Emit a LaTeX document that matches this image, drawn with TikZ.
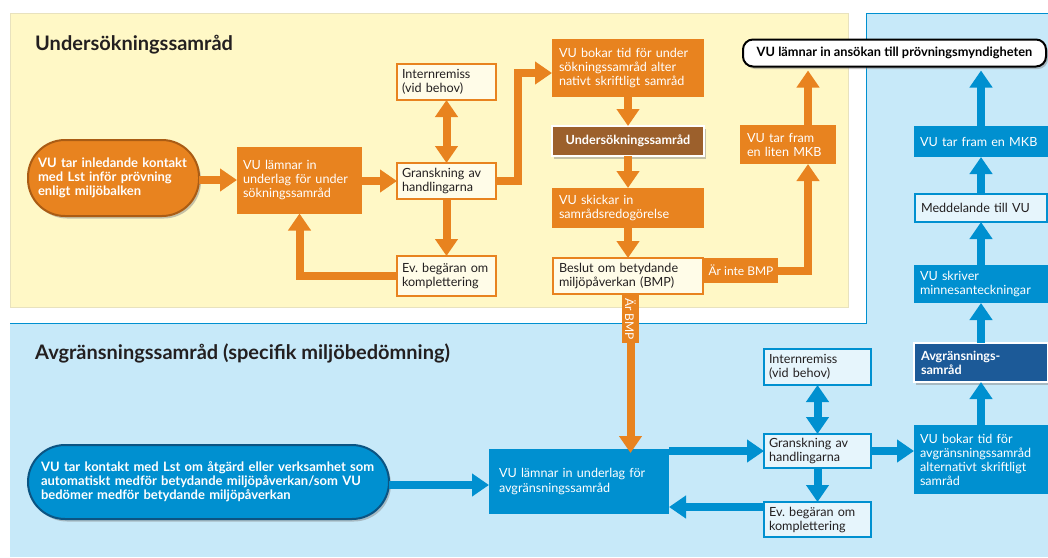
\documentclass[tikz,border=0pt]{standalone}
\usepackage{fontspec}
\setmainfont{Lato}
\usetikzlibrary{arrows.meta,shadows}

\definecolor{vuorange}{RGB}{232,131,31}
\definecolor{vuorangedark}{RGB}{170,92,20}
\definecolor{vubrown}{RGB}{156,96,44}
\definecolor{vuyellow}{RGB}{255,248,198}
\definecolor{vuyellowedge}{RGB}{232,226,190}
\definecolor{vucream}{RGB}{255,252,232}
\definecolor{vublue}{RGB}{0,144,208}
\definecolor{vubluedark}{RGB}{12,84,130}
\definecolor{vunavy}{RGB}{28,90,152}
\definecolor{vulightblue}{RGB}{199,233,249}
\definecolor{vupaleblue}{RGB}{230,245,252}
\definecolor{vutext}{RGB}{35,31,32}

\newcommand{\boxfont}{\fontsize{12.6pt}{14pt}\selectfont}
\newcommand{\pillfont}{\fontsize{13pt}{14pt}\selectfont\bfseries}
\newcommand{\titlefont}{\fontsize{20pt}{22pt}\selectfont\bfseries}
\frenchspacing

\tikzset{
  panelshadow/.style={drop shadow={shadow xshift=2pt,shadow yshift=-2.5pt,opacity=.45}},
  box/.style={rectangle,inner xsep=7pt,inner ysep=2pt,align=left,font=\boxfont,outer sep=0pt},
  obox/.style={box,fill=vuorange,text=white},
  cbox/.style={box,fill=vucream,draw=vuorange,line width=2.5pt,text=vutext},
  bbox/.style={box,fill=vublue,text=white},
  pbox/.style={box,fill=vupaleblue,draw=vublue,line width=2.5pt,text=vutext},
  opill/.style={box,fill=vuorange,draw=vuorangedark,line width=2pt,text=white,font=\pillfont,panelshadow},
  bpill/.style={box,fill=vublue,draw=vubluedark,line width=2pt,text=white,font=\pillfont,panelshadow},
  band/.style={rectangle,fill=vuorange,text=white,inner xsep=3pt,inner ysep=0pt,font=\fontsize{12pt}{13pt}\selectfont},
  oarr/.style={draw=vuorange,line width=8pt,->},
  barr/.style={draw=vublue,line width=8pt,->},
  title/.style={text=vutext,font=\titlefont,inner sep=0pt,anchor=base west}
}

\begin{document}
\begin{tikzpicture}[x=1pt,y=-1pt,>={Triangle[width=22pt,length=17pt]}]
\useasboundingbox (0,0) rectangle (1048,557);
\fill[white] (0,0) rectangle (1048,557);
% panels
\filldraw[fill=vuyellow,draw=vuyellowedge,line width=0.8pt] (10,13) rectangle (848,307);
\fill[vulightblue] (10,323) rectangle (1048,557);
\fill[vulightblue] (866,13) rectangle (1048,323);
\draw[vublue,line width=1pt] (10,323) -- (866,323) -- (866,13) -- (1048,13);

\node[title] (title1) at (35,50) {Undersökningssamråd};
\node[title] (title2) at (35,359) {Avgränsningssamråd (specifik miljöbedömning)};

% undersokningssamrad
\node[opill,rounded corners=37pt,minimum width=171pt,minimum height=76pt,text width=151pt,inner xsep=10pt] (start1) at (113.5,178) {VU tar inledande kontakt\\med Lst inför prövning\\enligt miljöbalken};
\node[obox,minimum width=125pt,minimum height=67pt,text width=113pt,inner xsep=6pt] (lamnar1) at (299.5,180) {VU lämnar in\\underlag för under\\sökningssamråd};
\node[cbox,minimum width=99pt,minimum height=36pt,text width=89pt,inner xsep=5pt] (gransk1) at (446.5,181) {Granskning av\\handlingarna};
\node[cbox,minimum width=99pt,minimum height=36pt,text width=89pt,inner xsep=5pt] (intern1) at (446.5,82) {Internremiss\\(vid behov)};
\node[cbox,minimum width=99pt,minimum height=40pt,text width=89pt,inner xsep=5pt] (ev1) at (446.5,276) {Ev. begäran om\\komplettering};
\node[obox,minimum width=152pt,minimum height=58pt,text width=138pt,inner xsep=7pt] (bokar1) at (628,68) {VU bokar tid för under\\sökningssamråd alter\\nativt skriftligt samråd};
\node[box,fill=vubrown,draw=white,line width=1.5pt,text=white,font=\boxfont\bfseries,align=center,minimum width=152pt,minimum height=30pt,panelshadow] (usamrad) at (628,141) {Undersökningssamråd};
\node[obox,minimum width=152pt,minimum height=40pt,text width=138pt,inner xsep=7pt] (skickar) at (628,208) {VU skickar in\\samrådsredogörelse};
\node[cbox,minimum width=150pt,minimum height=36pt,text width=138pt,inner xsep=6pt] (beslut) at (628,276) {Beslut om betydande\\miljöpåverkan (BMP)};
\node[obox,minimum width=96pt,minimum height=39pt,text width=82pt,inner xsep=7pt] (litenmkb) at (788,144.5) {VU tar fram\\en liten MKB};
\node[box,fill=white,draw=black,line width=2pt,rounded corners=10pt,text=black,font=\fontsize{12.8pt}{13pt}\selectfont\bfseries,align=center,minimum width=303pt,minimum height=27pt,panelshadow] (ansokan) at (894.5,53) {VU lämnar in ansökan till prövningsmyndigheten};
\node[band,minimum width=74pt,minimum height=25pt] (inte) at (741,270.5) {Är inte BMP};
\node[band,rotate=-90,minimum width=48pt,minimum height=17pt] (arbmp) at (630.5,319) {Är BMP};

\coordinate (k1) at (518,73);
\coordinate (k2) at (808,0);
\draw[oarr] (start1.east |- lamnar1) -- (lamnar1.west);
\draw[oarr] (lamnar1.east |- gransk1) -- (gransk1.west);
\draw[oarr,<->] (intern1.south) -- (gransk1.north);
\draw[oarr] (gransk1.south) -- (ev1.north);
\draw[oarr] (ev1.west) -| (lamnar1.south);
\draw[oarr] (gransk1.east) -| (k1) -- (k1 -| bokar1.west);
\draw[oarr] (bokar1.south) -- (usamrad.north);
\draw[oarr] (usamrad.south) -- (skickar.north);
\draw[oarr] (skickar.south) -- (beslut.north);
\draw[oarr] (inte.east) -| (k2 |- litenmkb.south);
\draw[oarr] (k2 |- litenmkb.north) -- ([yshift=-4pt]k2 |- ansokan.south);

% avgransningssamrad
\node[bpill,rounded corners=37pt,minimum width=361pt,minimum height=74pt,text width=335pt,inner xsep=13pt] (start2) at (208.5,482) {VU tar kontakt med Lst om åtgärd eller verksamhet som\\automatiskt medför betydande miljöpåverkan/som VU\\bedömer medför betydande miljöpåverkan};
\node[bbox,minimum width=180pt,minimum height=65pt,text width=160pt,inner xsep=10pt] (lamnar2) at (579,481.5) {VU lämnar in underlag för\\avgränsningssamråd};
\node[pbox,minimum width=107pt,minimum height=34pt,text width=97pt,inner xsep=5pt] (gransk2) at (817.5,451) {Granskning av\\handlingarna};
\node[pbox,minimum width=107pt,minimum height=36pt,text width=97pt,inner xsep=5pt] (intern2) at (817.5,367) {Internremiss\\(vid behov)};
\node[pbox,minimum width=107pt,minimum height=35pt,text width=97pt,inner xsep=5pt] (ev2) at (817.5,519.5) {Ev. begäran om\\komplettering};
\node[bbox,minimum width=134pt,minimum height=69pt,text width=122pt,inner xsep=6pt] (bokar2) at (981,459.5) {VU bokar tid för\\avgränsningssamråd\\alternativt skriftligt\\samråd};
\node[box,fill=vunavy,draw=white,line width=1.5pt,text=white,font=\boxfont\bfseries,minimum width=134pt,minimum height=39pt,text width=120pt,inner xsep=7pt,panelshadow] (avgr) at (981,362.5) {Avgränsnings-\\samråd};
\node[bbox,minimum width=134pt,minimum height=38pt,text width=122pt,inner xsep=6pt] (skriver) at (981,284) {VU skriver\\minnesanteckningar};
\node[pbox,minimum width=132pt,minimum height=28pt,text width=120pt,inner xsep=6pt] (meddel) at (981,208) {Meddelande till VU};
\node[bbox,minimum width=134pt,minimum height=31pt,text width=122pt,inner xsep=6pt] (mkb2) at (981,141.5) {VU tar fram en MKB};

\draw[oarr] (arbmp.east) -- ([yshift=-4pt]arbmp.east |- lamnar2.north);
\draw[barr] (start2.east |- 0,485) -- (lamnar2.west |- 0,485);
\draw[barr] (lamnar2.east |- gransk2) -- (gransk2.west);
\draw[barr,<->] (intern2.south) -- (gransk2.north);
\draw[barr] (gransk2.south) -- (ev2.north);
\draw[barr] (ev2.west |- 0,507) -- (lamnar2.east |- 0,507);
\draw[barr] (gransk2.east) -- (gransk2.east -| bokar2.west);
\draw[barr] (bokar2.north) -- (avgr.south);
\draw[barr] (avgr.north) -- (skriver.south);
\draw[barr] (skriver.north) -- (meddel.south);
\draw[barr] (meddel.north) -- (mkb2.south);
\draw[barr] (mkb2.north) -- ([yshift=-4pt]mkb2.north |- ansokan.south);
\end{tikzpicture}
\end{document}
